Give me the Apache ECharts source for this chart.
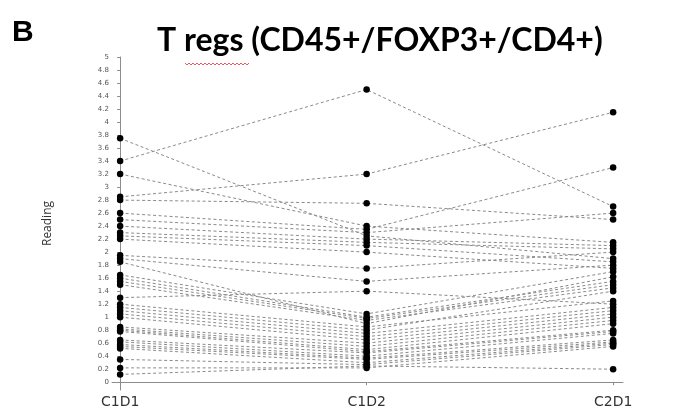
<!DOCTYPE html>
<html>
<head>
<meta charset="utf-8">
<script src="https://cdn.jsdelivr.net/npm/echarts@6/dist/echarts.min.js"></script>
<style>
  html, body { margin: 0; padding: 0; background: #ffffff; }
  #chart { width: 682px; height: 410px; }
</style>
</head>
<body>
<div id="chart"></div>
<script>
// Visits on the x axis
const categories = ['C1D1', 'C1D2', 'C2D1'];

// Treg readings per subject, one entry per subject in each visit array
const c1d1 = [3.75, 3.4, 3.2, 2.85, 2.8, 2.6, 2.5, 2.4, 2.3, 2.25, 2.2, 1.95,
              1.9, 1.85, 1.65, 1.6, 1.55, 1.5, 1.3, 1.2, 1.15, 1.1, 1.05, 1.0,
              0.85, 0.82, 0.8, 0.78, 0.65, 0.62, 0.58, 0.55, 0.52, 0.35, 0.22, 0.12];
const c1d2 = [2.25, 4.5, 2.4, 3.2, 2.75, 2.35, 2.3, 2.2, 2.15, 2.1, 2.0, 1.75,
              1.55, 0.9, 1.05, 1.0, 0.98, 0.95, 1.4, 0.85, 0.8, 0.75, 0.7, 0.65,
              0.6, 0.55, 0.5, 0.47, 0.45, 0.4, 0.37, 0.35, 0.3, 0.27, 0.22, 0.25];
const c2d1 = [1.9, 2.7, 2.15, 4.15, 2.5, 3.3, 2.6, 2.1, 2.05, 1.85, 1.75, 2.0,
              1.8, 1.62, 1.7, 1.55, 1.5, 1.45, 1.2, 1.25, 1.4, 1.15, 1.1, 1.05,
              1.0, 0.95, 0.9, 0.8, 0.78, 0.75, 0.65, 0.62, 0.6, 0.58, 0.55, 0.2];

// Y axis tick labels
const yTicks = [0, 0.2, 0.4, 0.6, 0.8, 1, 1.2, 1.4, 1.6, 1.8, 2, 2.2, 2.4, 2.6,
                2.8, 3, 3.2, 3.4, 3.6, 3.8, 4, 4.2, 4.4, 4.6, 4.8, 5];
const xTicks = [0, 1, 2];

const series = c1d1.map(function (v, i) {
  return {
    type: 'line',
    data: [[0, c1d1[i]], [1, c1d2[i]], [2, c2d1[i]]],
    symbol: 'circle',
    symbolSize: 6.5,
    showSymbol: true,
    itemStyle: { color: '#000000' },
    lineStyle: { color: '#8a8a8a', width: 1, type: [3, 2.5] },
    emphasis: { disabled: true },
    animation: false
  };
});

// Spell-check style wavy underline beneath "regs"
const wave = [];
for (let x = 185; x <= 249; x += 2) {
  wave.push([x, (x - 185) % 4 === 0 ? 63 : 65]);
}

const chart = echarts.init(document.getElementById('chart'));
chart.setOption({
  backgroundColor: '#ffffff',
  animation: false,
  grid: { left: 112, right: 59, top: 57, bottom: 20, containLabel: false },
  xAxis: {
    type: 'value',
    min: -0.033,
    max: 2.04,
    splitLine: { show: false },
    axisLine: { show: true, lineStyle: { color: '#8c8c8c', width: 1 } },
    axisTick: { show: true, customValues: xTicks, length: 3, lineStyle: { color: '#8c8c8c' } },
    axisLabel: {
      customValues: xTicks,
      formatter: function (v) { return categories[Math.round(v)]; },
      color: '#333333',
      fontFamily: 'DejaVu Sans',
      fontSize: 14,
      margin: 5
    }
  },
  yAxis: {
    type: 'value',
    min: -0.12,
    max: 5,
    name: 'Reading',
    nameLocation: 'middle',
    nameGap: 58,
    nameTextStyle: { fontFamily: 'Open Sans', fontSize: 12, color: '#333333' },
    splitLine: { show: false },
    axisLine: { show: true, lineStyle: { color: '#8c8c8c', width: 1 } },
    axisTick: { show: true, customValues: yTicks, length: 3, lineStyle: { color: '#8c8c8c' } },
    axisLabel: {
      customValues: yTicks,
      formatter: function (v) { return String(v); },
      color: '#555555',
      fontFamily: 'DejaVu Sans',
      fontSize: 7,
      margin: 3
    }
  },
  graphic: [
    {
      type: 'text', left: 12, top: 18,
      style: { text: 'B', font: 'bold 30px "Liberation Sans"', fill: '#000000' }
    },
    {
      type: 'text', left: 157, top: 25,
      style: { text: 'T regs (CD45+/FOXP3+/CD4+)', font: 'bold 32px Lato', fill: '#000000' }
    },
    {
      type: 'polyline',
      shape: { points: wave },
      style: { stroke: '#e03030', lineWidth: 0.8, fill: null }
    }
  ],
  series: series
});
</script>
</body>
</html>
